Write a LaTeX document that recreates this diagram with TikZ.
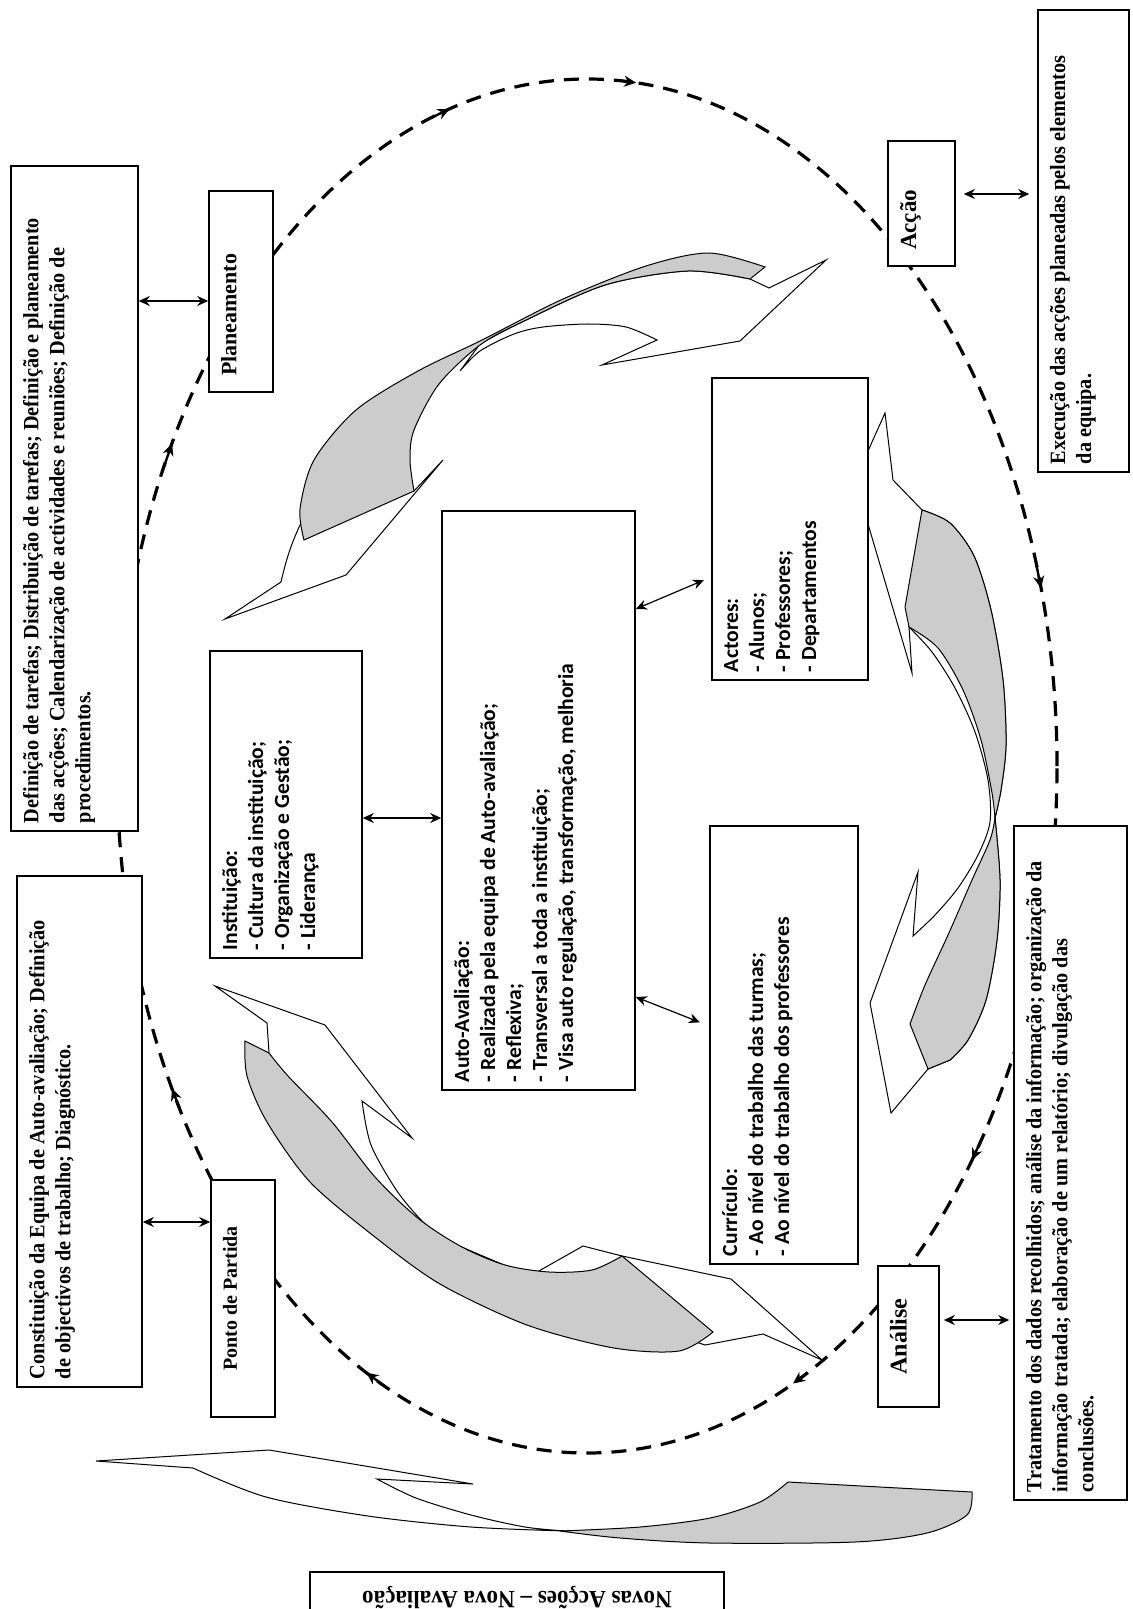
\documentclass[tikz,border=0pt]{standalone}
\usepackage{fontspec}
\setmainfont{Liberation Serif}
\newfontfamily\descfont[FakeStretch=0.93]{Liberation Serif}
\newfontfamily\carlito{Carlito}
\usepackage{tikz}
\usetikzlibrary{arrows.meta}
\definecolor{ribbon}{gray}{0.8}
\newcommand{\boxcell}[3]{\parbox[c][\dimexpr#2-12pt\relax][t]{\dimexpr#1-8pt\relax}{\raggedright #3}}

\begin{document}
\begin{tikzpicture}[x=0.5pt, y=-0.5pt,
    box/.style = {draw, fill=white, line width=0.8pt, rotate=90, inner xsep=4pt, inner ysep=6pt},
    lbl/.style = {box, font=\bfseries\fontsize{11}{13}\selectfont},
    desc/.style = {box, font=\descfont\bfseries\fontsize{10.9}{13}\selectfont},
    item/.style = {box, font=\carlito\bfseries\fontsize{10.8}{13}\selectfont},
    dbl/.style = {{Stealth[length=5.5pt,width=5pt]}-{Stealth[length=5.5pt,width=5pt]}, line width=0.6pt},
    cycleline/.style = {line width=1.6pt, dash pattern=on 7.5pt off 5pt},
    cycletip/.style = {line width=1.2pt, -{Stealth[length=6pt,width=5.5pt]}},
    front/.style = {draw, fill=white, line width=0.5pt},
    back/.style = {draw, fill=ribbon, line width=0.5pt}]
\useasboundingbox (0,0) rectangle (1132,1609);
\draw[cycleline] (587,766) ellipse [x radius=235pt, y radius=343.5pt];
\foreach \t in {-107,-84,-15,35,64,118,152,208}
  \draw[cycletip] ({587+470*cos(\t-2)},{766+687*sin(\t-2)}) -- ({587+470*cos(\t)},{766+687*sin(\t)});

\filldraw[front] (225,619) -- (281,582) .. controls (286,560) and (292,540) .. (305,515) -- (414,491) -- (443,460) -- (346,575) -- cycle;
\filldraw[front] (750,279) -- (769,288) -- (826,260) -- (740,341) -- (602,365) -- (657,340)
  -- plot[smooth] coordinates {(657,340) (626,327) (588,324) (543,327) (514,334) (480,351) (460,371)}
  -- (480,344) -- plot[smooth] coordinates {(480,344) (522,322) (605,285) (688,271) (750,279)} -- cycle;
\filldraw[back] plot[smooth] coordinates {(304,540) (300,509) (314,460) (356,410) (418,371) (480,341) (563,299) (646,266) (709,253) (765,267)}
  -- (750,279) -- plot[smooth] coordinates {(750,279) (688,271) (605,285) (522,322) (480,345) (439,384) (414,430) (410,460) (414,491)} -- cycle;

\filldraw[front] (885,413) -- (893,480) -- (922,510)
  -- plot[smooth] coordinates {(922,510) (950,523) (974,556) (991,610) (1003,680) (1006,745) (1001,790) (995,818)}
  -- plot[smooth] coordinates {(995,818) (1000,880) (997,940) (986,1000) (968,1040) (950,1060)}
  -- (928,1069) -- (891,1113) -- (870,1003) -- (918,872) -- (913,936)
  -- plot[smooth] coordinates {(913,936) (935,915) (958,888) (978,855) (990,822) (988,780) (975,732) (955,688) (932,652) (909,627)}
  -- (912,673) -- (855,480) -- cycle;
\filldraw[back] plot[smooth] coordinates {(922,510) (950,523) (974,556) (991,610) (1003,680) (1006,745) (1001,790) (995,818)}
  -- plot[smooth] coordinates {(995,818) (992,793) (981,740) (963,690) (938,648) (909,627)} -- (905,607) -- cycle;
\filldraw[back] plot[smooth] coordinates {(995,818) (1000,880) (997,940) (986,1000) (968,1040) (950,1060)}
  -- (928,1069) -- (910,1024) -- plot[smooth] coordinates {(910,1024) (925,985) (948,935) (972,880) (990,840) (995,818)} -- cycle;

\filldraw[front] (215,986) -- (325,1025) -- (412,1138) -- (362,1101)
  -- plot[smooth] coordinates {(362,1101) (371,1145) (397,1191) (423,1222) (445,1240)}
  -- (530,1276) -- (583,1246) -- (622,1256) -- (731,1279) -- (822,1360) -- (763,1334) -- (705,1345)
  -- (600,1310) -- (450,1262) -- (300,1140) -- (269,1053) -- (267,1023) -- cycle;
\filldraw[back] plot[smooth] coordinates {(245,1041) (247,1076) (267,1122) (310,1182) (375,1237) (440,1284) (527,1325) (614,1348) (679,1351) (713,1332)}
  -- (622,1256) -- plot[smooth] coordinates {(622,1256) (592,1270) (549,1272) (505,1265) (462,1247) (419,1219) (375,1177) (332,1122) (288,1076) (269,1053)} -- cycle;

\filldraw[front] (96,1461) -- (269,1450) -- (473,1484) -- (377,1479)
  -- plot[smooth] coordinates {(377,1479) (416,1498) (471,1515) (525,1527) (566,1531)}
  -- plot[smooth] coordinates {(566,1531) (471,1527) (368,1516) (266,1497) (193,1468)} -- cycle;
\filldraw[back] plot[smooth] coordinates {(560,1531) (640,1527) (710,1518) (760,1502) (788,1482)}
  -- (972,1492) -- plot[smooth] coordinates {(972,1492) (967,1515) (927,1533) (855,1542) (710,1543) (620,1538) (560,1531)} -- cycle;

\node[desc] (plantext) at (74.5,498.5) {\boxcell{332.5pt}{63.5pt}{Definição de tarefas; Distribuição de tarefas; Definição e planeamento\\das acções; Calendarização de actividades e reuniões; Definição de\\procedimentos.}};
\node[lbl] (plan) at (241,291.5) {\boxcell{100.5pt}{32pt}{\hspace*{4pt}Planeamento}};
\node[desc] (const) at (79.5,1131.5) {\boxcell{255.5pt}{62.5pt}{Constituição da Equipa de Auto-avaliação; Definição\\de objectivos de trabalho; Diagnóstico.}};
\node[lbl, font=\bfseries\fontsize{10}{12}\selectfont] (ponto) at (243,1298.5) {\boxcell{118.5pt}{32pt}{\centering Ponto de Partida}};
\node[item] (inst) at (286,804.5) {\boxcell{153.5pt}{76pt}{Instituição:\\- Cultura da instituição;\\- Organização e Gestão;\\- Liderança}};
\node[item] (auto) at (538.5,800.5) {\boxcell{289.5pt}{96.5pt}{Auto-Avaliação:\\- Realizada pela equipa de Auto-avaliação;\\- Reflexiva;\\- Transversal a toda a instituição;\\- Visa auto regulação, transformação, melhoria}};
\node[item] (act) at (790,529) {\boxcell{151pt}{78pt}{Actores:\\- Alunos;\\- Professores;\\- Departamentos}};
\node[item] (curr) at (784,1045) {\boxcell{219pt}{74pt}{Currículo:\\- Ao nível do trabalho das turmas;\\- Ao nível do trabalho dos professores}};
\node[lbl, font=\bfseries\fontsize{11.5}{13}\selectfont] (acao) at (921.5,203.5) {\boxcell{62.5pt}{33.5pt}{\hspace*{4pt}Acção}};
\node[desc] (exec) at (1083.5,241) {\boxcell{231pt}{45.5pt}{Execução das acções planeadas pelos elementos\\da equipa.}};
\node[lbl, font=\bfseries\fontsize{12}{14}\selectfont] (anal) at (908.5,1336.5) {\boxcell{70.5pt}{30.5pt}{\centering Análise}};
\node[desc] (trat) at (1070.5,1163) {\boxcell{337pt}{56.5pt}{Tratamento dos dados recolhidos; análise da informação; organização da\\informação tratada; elaboração de um relatório; divulgação das\\conclusões.}};
\node[draw, fill=white, line width=0.8pt, rotate=180, minimum width=207pt, minimum height=26pt, font=\descfont\bfseries\fontsize{12.4}{14}\selectfont] (novas) at (517,1598) {Novas Acções – Nova Avaliação};

\coordinate (pl) at ([yshift=-4.75pt]plan.north);
\draw[dbl] (plantext.south |- pl) -- (pl);
\coordinate (pp) at ([yshift=38.25pt]ponto.north);
\draw[dbl] (const.south |- pp) -- (pp);
\coordinate (ins) at ([yshift=-6.75pt]inst.south);
\draw[dbl] (ins) -- (auto.north |- ins);
\draw[dbl, shorten >=4pt] ([yshift=95.75pt]auto.south) -- ([yshift=-24pt]act.north);
\draw[dbl, shorten >=5pt] ([yshift=-98.25pt]auto.south) -- ([yshift=9.5pt]curr.north);
\coordinate (ac) at ([yshift=4.75pt]acao.south);
\draw[dbl, shorten <=4pt, shorten >=4pt] (ac) -- (exec.north |- ac);
\coordinate (an) at ([yshift=8.25pt]anal.south);
\draw[dbl, shorten <=2pt, shorten >=2pt] (an) -- (trat.north |- an);
\end{tikzpicture}
\end{document}
